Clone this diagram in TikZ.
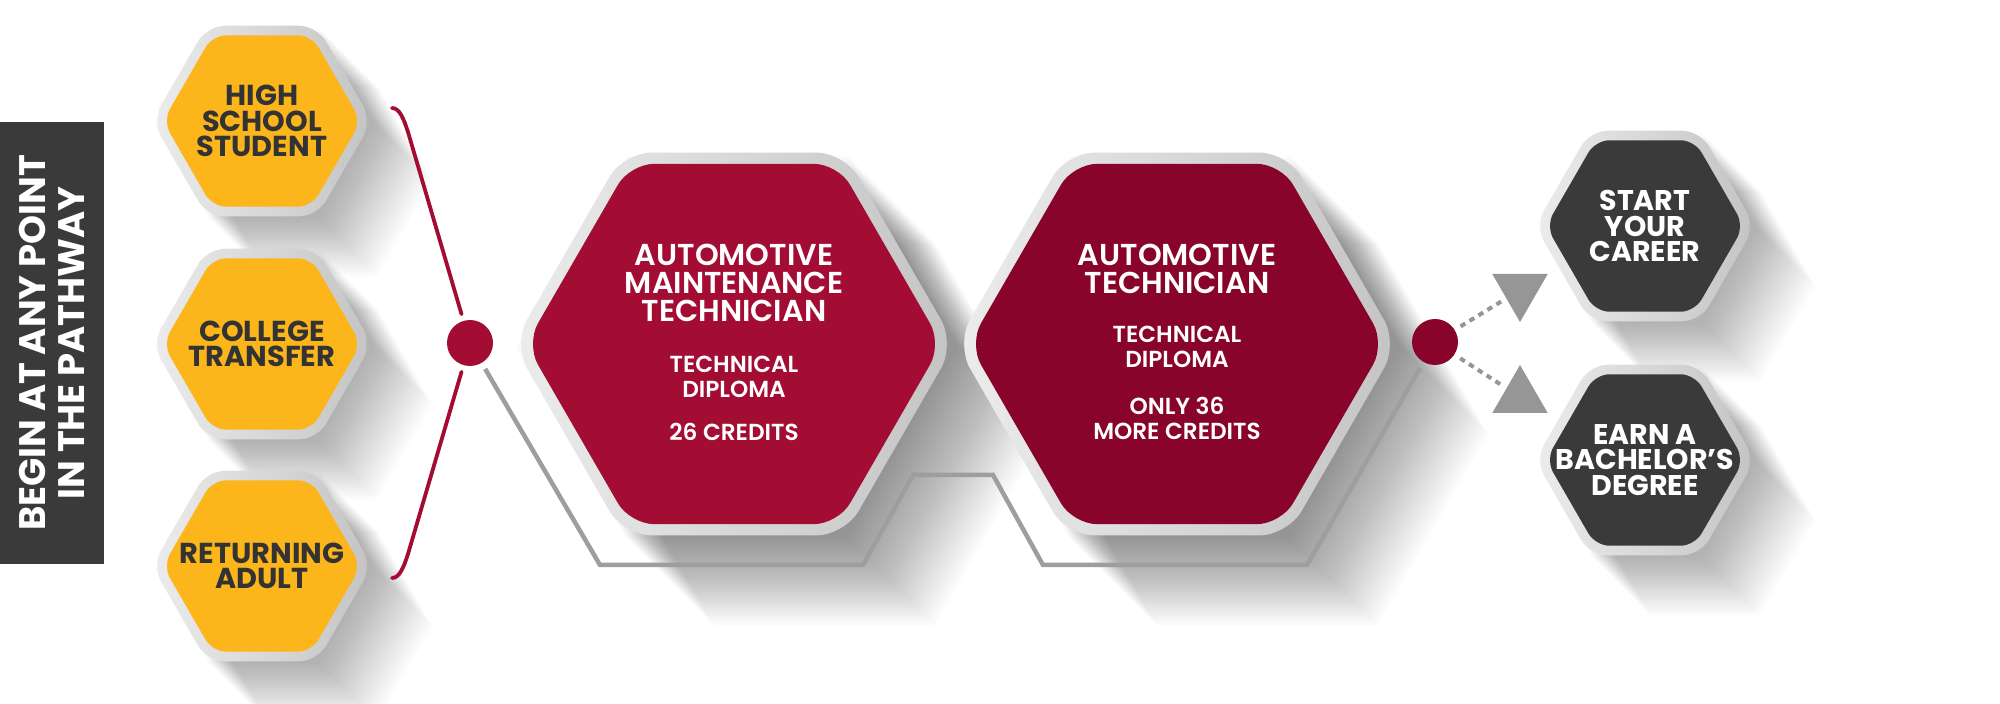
\documentclass[tikz,border=0pt]{standalone}
\usepackage{fontspec}
\setmainfont{Poppins}
\newfontfamily\semifont{Poppins SemiBold}
\usetikzlibrary{shapes.geometric,positioning}
\definecolor{hexyellow}{RGB}{252,182,27}
\definecolor{hexred}{RGB}{163,13,52}
\definecolor{hexdeepred}{RGB}{137,4,42}
\definecolor{hexdark}{RGB}{58,58,58}
\definecolor{ringlight}{RGB}{236,236,236}
\definecolor{ringdark}{RGB}{196,196,196}
\definecolor{pathgray}{RGB}{158,158,158}
\definecolor{tipgray}{RGB}{150,150,150}
\definecolor{labeldark}{RGB}{51,51,51}

\begin{document}
\begin{tikzpicture}[x=0.1mm,y=-0.1mm,
hexbase/.style={regular polygon,regular polygon sides=6,inner sep=0pt,outer sep=0pt},
hexring/.style={hexbase,left color=ringlight,right color=ringdark},
smallring/.style={hexring,minimum size=22mm,rounded corners=1.8mm},
bigring/.style={hexring,minimum size=44.2mm,rounded corners=2.8mm},
smallhex/.style={hexbase,minimum size=19.8mm,rounded corners=1.4mm},
bighex/.style={hexbase,minimum size=41.6mm,rounded corners=2.4mm},
hexshadow/.style={hexbase,fill=black,fill opacity=0.015},
yellowtext/.style={text=labeldark,align=center,inner sep=0pt,font={\bfseries\fontsize{8.2}{7.3}\selectfont}},
darktext/.style={text=white,align=center,inner sep=0pt,font={\bfseries\fontsize{8.1}{7.25}\selectfont}},
titletext/.style={text=white,align=center,inner sep=0pt,font={\semifont\fontsize{8.6}{8}\selectfont}},
subtext/.style={text=white,align=center,inner sep=0pt,font={\semifont\fontsize{6.6}{7.1}\selectfont}},
beginbox/.style={fill=hexdark,rotate=90,minimum width=44.2mm,minimum height=10.4mm,inner sep=0pt,
  text=white,align=center,font={\bfseries\fontsize{10.5}{11.1}\selectfont}},
junction/.style={circle,minimum size=4.6mm,inner sep=0pt,outer sep=0.7mm},
tipshape/.style={regular polygon,regular polygon sides=3,fill=tipgray,minimum size=6.4mm,inner sep=0pt,outer sep=0.4mm},
bracket/.style={draw=hexred,line width=0.38mm,line cap=round},
pathline/.style={draw=pathgray,line width=0.45mm},
dotline/.style={draw=tipgray,line width=0.4mm,dash pattern=on 0.55mm off 0.5mm}]

\fill[white] (0,0) rectangle (2000,704);
\useasboundingbox (0,0) rectangle (2000,704);

% long shadows
\foreach \cx/\cy/\sz/\len [count=\i] in {262/121/22/60,262/344/22/60,262/566/22/60,734/344/44.2/90,
  1177/344/44.2/90,1645/226/22/60,1645/460/22/60}
  \foreach \d in {3,6,...,\len}
    \node[hexshadow,minimum size=\sz mm] (shadow\i-\d) at (\cx+\d,\cy+\d) {};

\draw (52,343) node[beginbox] (begin) {BEGIN AT ANY POINT\\IN THE PATHWAY};

\draw (470,343) node[junction,fill=hexred] (join1) {};
\draw (1435,342) node[junction,fill=hexdeepred] (join2) {};
\draw (1520,290) node[tipshape,shape border rotate=180] (careertip) {};
\draw (1520,397) node[tipshape] (degreetip) {};

\draw[bracket] (392,108) .. controls (400,108) and (404,120) .. (408,132) -- (join1);
\draw[bracket] (392,578) .. controls (400,578) and (404,566) .. (408,554) -- (join1);
\draw[pathline] (join1) -- (600,565) -- (863,565) -- (913,475) -- (993,475) -- (1043,565) -- (1307,565) -- (join2);
\draw[dotline] (join2) -- (careertip);
\draw[dotline] (join2) -- (degreetip);

% starting points
\draw (262,121) node[smallring] (highring) {} node[smallhex,fill=hexyellow] (high) {}
  node[yellowtext] (highlabel) {HIGH\\SCHOOL\\STUDENT};
\draw (262,344) node[smallring] (collegering) {} node[smallhex,fill=hexyellow] (college) {}
  node[yellowtext] (collegelabel) {COLLEGE\\TRANSFER};
\draw (262,566) node[smallring] (adultring) {} node[smallhex,fill=hexyellow] (adult) {}
  node[yellowtext] (adultlabel) {RETURNING\\ADULT};

% diplomas
\draw (734,344) node[bigring] (maintring) {} node[bighex,fill=hexred] (maint) {};
\draw (734,283) node[titletext] (mainttitle) {AUTOMOTIVE\\MAINTENANCE\\TECHNICIAN};
\draw (734,376.5) node[subtext] (maintsub) {TECHNICAL\\DIPLOMA};
\draw (734,432) node[subtext] (maintcredits) {26 CREDITS};

\draw (1177,344) node[bigring] (techring) {} node[bighex,fill=hexdeepred] (tech) {};
\draw (1177,269) node[titletext] (techtitle) {AUTOMOTIVE\\TECHNICIAN};
\draw (1177,347) node[subtext] (techsub) {TECHNICAL\\DIPLOMA};
\draw (1177,418.5) node[subtext] (techcredits) {ONLY 36\\MORE CREDITS};

% outcomes
\draw (1645,226) node[smallring] (careerring) {} node[smallhex,fill=hexdark] (career) {}
  node[darktext] (careerlabel) {START\\YOUR\\CAREER};
\draw (1645,460) node[smallring] (degreering) {} node[smallhex,fill=hexdark] (degree) {}
  node[darktext] (degreelabel) {EARN A\\BACHELOR’S\\DEGREE};
\end{tikzpicture}
\end{document}
